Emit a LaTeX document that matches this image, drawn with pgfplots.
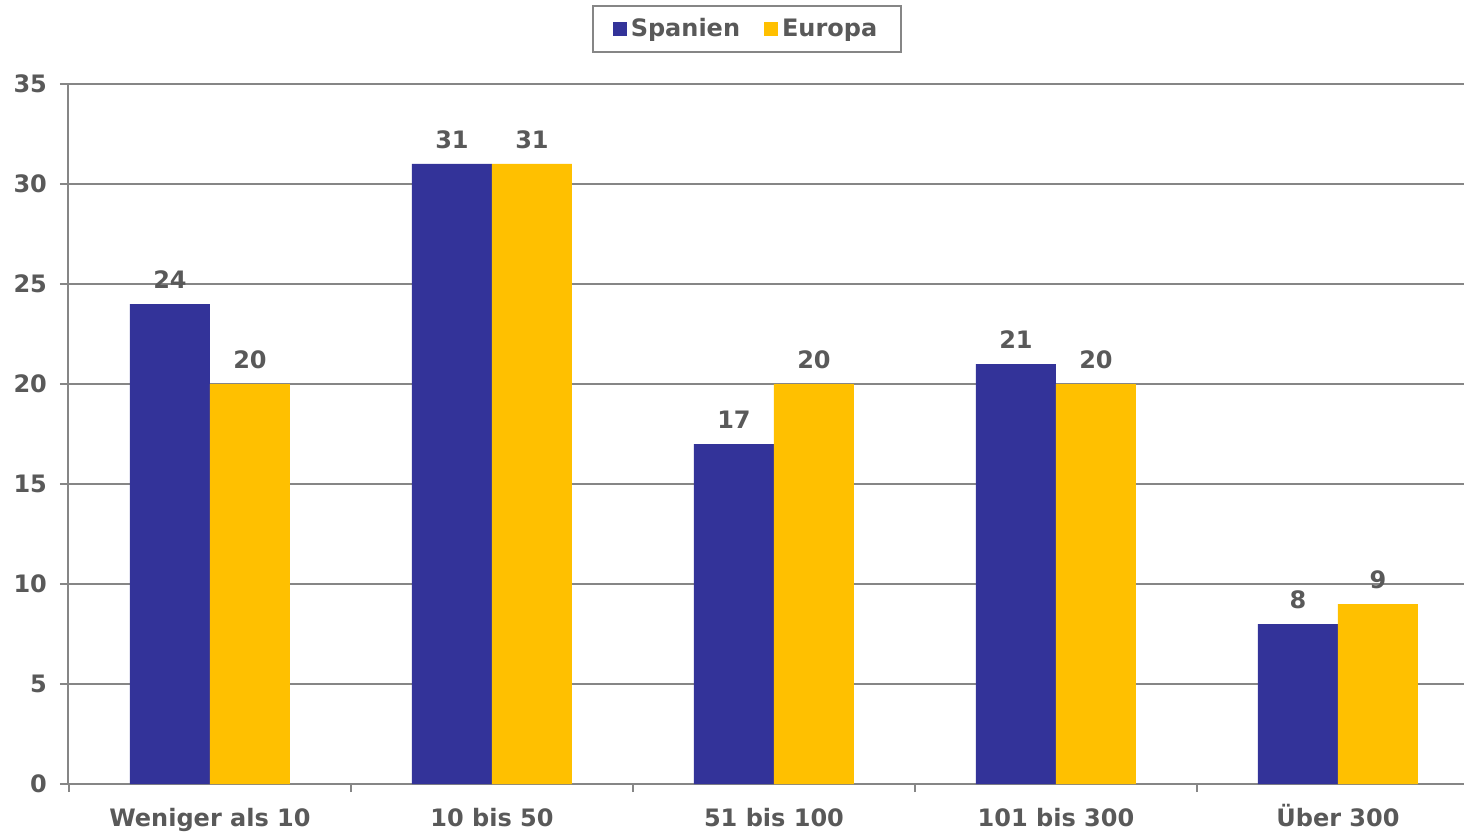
\documentclass[border=0pt]{standalone}
\usepackage{pgfplots}
\pgfplotsset{compat=1.18}
\usepackage{fontspec}
\setmainfont{DejaVu Sans}
\definecolor{spblue}{HTML}{333399}
\definecolor{euyel}{HTML}{FFC000}
\definecolor{txt}{HTML}{595959}
\definecolor{axgray}{HTML}{868686}
\begin{document}
\begin{tikzpicture}
\useasboundingbox (0,0) rectangle (732pt,416pt);
\begin{axis}[
  at={(34pt,24pt)}, anchor=south west, scale only axis,
  width=698pt, height=350pt,
  xmin=-0.5035, xmax=4.447, ymin=0, ymax=35,
  /pgf/number format/assume math mode=true,
  axis x line*=bottom, axis y line*=left,
  axis line style={-, axgray, line width=1pt},
  ytick={0,5,...,35},
  ymajorgrids, grid style={axgray, line width=0.75pt},
  tick align=outside, major tick length=4pt,
  tick style={axgray, line width=0.75pt},
  xtick={0,1,2,3,4},
  xticklabels={Weniger als 10, 10 bis 50, 51 bis 100, 101 bis 300, Über 300},
  x tick style={draw=none},
  extra x ticks={-0.5,0.5,1.5,2.5,3.5}, extra x tick labels={},
  extra x tick style={grid=none, x tick style={draw=axgray, line width=0.75pt}, major tick length=4pt},
  ticklabel style={font=\bfseries\fontsize{12}{14}\selectfont, text=txt},
  yticklabel style={xshift=-3pt},
  xticklabel style={anchor=base, yshift=-17pt},
  ybar=0pt, bar width=40pt,
  nodes near coords,
  every node near coord/.append style={font=\bfseries\fontsize{12}{14}\selectfont, text=txt, anchor=south, yshift=4pt},
  legend columns=2,
  legend style={at={(0.4864,1.0786)}, anchor=center, draw=axgray, line width=1pt,
    font=\bfseries\fontsize{12}{14}\selectfont, text=txt,
    inner xsep=10pt, inner ysep=4pt,
    /tikz/every even column/.append style={column sep=10pt}},
  legend image code/.code={\fill[#1, draw=none] (0pt,-3.5pt) rectangle (7pt,3.5pt);},
]
\addplot[fill=spblue, draw=none] coordinates {(0,24) (1,31) (2,17) (3,21) (4,8)};
\addplot[fill=euyel, draw=none] coordinates {(0,20) (1,31) (2,20) (3,20) (4,9)};
\legend{Spanien, Europa}
\end{axis}
\end{tikzpicture}
\end{document}
